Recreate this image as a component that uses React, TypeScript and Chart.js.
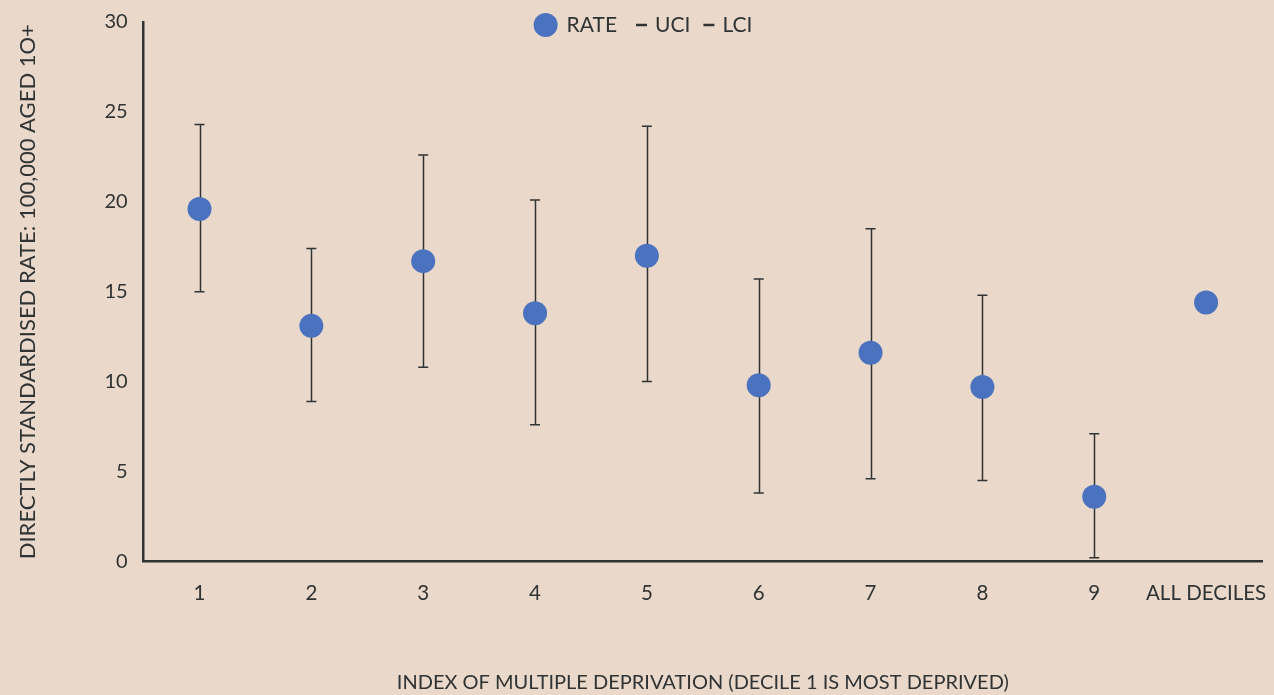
import React, { useEffect, useRef } from "react";
import { Chart, registerables } from "chart.js";

Chart.register(...registerables);

const categories = ["1", "2", "3", "4", "5", "6", "7", "8", "9", "ALL DECILES"];
const rate = [19.6, 13.1, 16.7, 13.8, 17.0, 9.8, 11.6, 9.7, 3.6, 14.4];
const uci: (number | null)[] = [24.3, 17.4, 22.6, 20.1, 24.2, 15.7, 18.5, 14.8, 7.1, null];
const lci: (number | null)[] = [15.0, 8.9, 10.8, 7.6, 10.0, 3.8, 4.6, 4.5, 0.2, null];
const yTicks = [0, 5, 10, 15, 20, 25, 30];

const BG = "#EAD8CB";
const INK = "#2F3333";
const BLUE = "#4A72BE";
const FONT = "Lato, 'Open Sans', sans-serif";

const errorBarPlugin = {
  id: "errorBars",
  beforeDatasetsDraw(chart: any) {
    const { ctx, scales } = chart;
    const x = scales.x;
    const y = scales.y;
    ctx.save();
    ctx.strokeStyle = INK;
    ctx.lineWidth = 1.5;
    categories.forEach((_, i) => {
      const hi = uci[i];
      const lo = lci[i];
      if (hi == null || lo == null) return;
      const px = Math.round(x.getPixelForValue(i)) + 0.5;
      ctx.beginPath();
      ctx.moveTo(px, y.getPixelForValue(hi));
      ctx.lineTo(px, y.getPixelForValue(lo));
      ctx.stroke();
    });
    ctx.restore();
  },
};

const legendPlugin = {
  id: "customLegend",
  afterDraw(chart: any) {
    const { ctx, width } = chart;
    ctx.save();
    ctx.font = `21px ${FONT}`;
    ctx.textBaseline = "middle";
    const cy = 25;
    const items = [
      { type: "dot", label: "RATE", gapAfter: 19 },
      { type: "dash", label: "UCI", gapAfter: 13 },
      { type: "dash", label: "LCI", gapAfter: 0 },
    ];
    const widths = items.map(
      (it) => (it.type === "dot" ? 24 + 9 : 11 + 8) + ctx.measureText(it.label).width + it.gapAfter
    );
    const total = widths.reduce((a, b) => a + b, 0);
    let x = width / 2 - total / 2 + 6;
    items.forEach((it) => {
      if (it.type === "dot") {
        ctx.fillStyle = BLUE;
        ctx.beginPath();
        ctx.arc(x + 12, cy, 12, 0, Math.PI * 2);
        ctx.fill();
        x += 24 + 9;
      } else {
        ctx.strokeStyle = INK;
        ctx.lineWidth = 2.5;
        ctx.beginPath();
        ctx.moveTo(x, cy);
        ctx.lineTo(x + 11, cy);
        ctx.stroke();
        x += 11 + 8;
      }
      ctx.fillStyle = INK;
      ctx.fillText(it.label, x, cy);
      x += ctx.measureText(it.label).width + it.gapAfter;
    });
    ctx.restore();
  },
};

export default function App() {
  const canvasRef = useRef<HTMLCanvasElement | null>(null);

  useEffect(() => {
    if (!canvasRef.current) return;
    const chart = new Chart(canvasRef.current, {
      type: "line",
      data: {
        labels: categories,
        datasets: [
          {
            label: "RATE",
            data: rate,
            showLine: false,
            pointRadius: 12,
            pointHoverRadius: 12,
            pointBackgroundColor: BLUE,
            pointBorderWidth: 0,
            borderColor: BLUE,
            backgroundColor: BLUE,
            order: 0,
          },
          {
            label: "UCI",
            data: uci,
            showLine: false,
            pointStyle: "line",
            pointRadius: 5,
            pointBorderWidth: 1.5,
            pointBorderColor: INK,
            borderColor: INK,
            order: 1,
          },
          {
            label: "LCI",
            data: lci,
            showLine: false,
            pointStyle: "line",
            pointRadius: 5,
            pointBorderWidth: 1.5,
            pointBorderColor: INK,
            borderColor: INK,
            order: 1,
          },
        ],
      },
      options: {
        responsive: true,
        maintainAspectRatio: false,
        animation: false,
        layout: { padding: { top: 22, right: 8, bottom: 0, left: 15 } },
        plugins: {
          legend: { display: false },
          tooltip: { enabled: false },
        },
        scales: {
          x: {
            type: "category",
            offset: true,
            grid: { display: false, drawTicks: false },
            border: { display: true, color: INK, width: 2.5 },
            afterFit: (s: any) => {
              s.paddingRight = 0;
              s.paddingLeft = 0;
            },
            ticks: {
              color: INK,
              font: { family: FONT, size: 20.5 },
              padding: 20,
              maxRotation: 0,
              minRotation: 0,
              autoSkip: false,
            },
            title: {
              display: true,
              text: "INDEX OF MULTIPLE DEPRIVATION (DECILE 1 IS MOST DEPRIVED)",
              color: INK,
              font: { family: FONT, size: 20 },
              padding: { top: 45, bottom: 0 },
            },
          },
          y: {
            min: 0,
            max: 30,
            afterBuildTicks: (axis: any) => {
              axis.ticks = yTicks.map((v) => ({ value: v }));
            },
            afterFit: (s: any) => {
              s.paddingTop = 0;
              s.paddingBottom = 0;
            },
            grid: { display: false, drawTicks: false },
            border: { display: true, color: INK, width: 2.5 },
            ticks: { color: INK, font: { family: FONT, size: 20 }, padding: 16 },
            title: {
              display: true,
              text: "DIRECTLY STANDARDISED RATE: 100,000 AGED 1O+",
              color: INK,
              font: { family: FONT, size: 22 },
              padding: { top: 0, bottom: 47 },
            },
          },
        },
      },
      plugins: [errorBarPlugin, legendPlugin],
    });
    return () => chart.destroy();
  }, []);

  return (
    <div style={{ position: "fixed", left: 0, top: 0, width: 1274, height: 695, background: BG }}>
      <canvas ref={canvasRef} />
    </div>
  );
}
